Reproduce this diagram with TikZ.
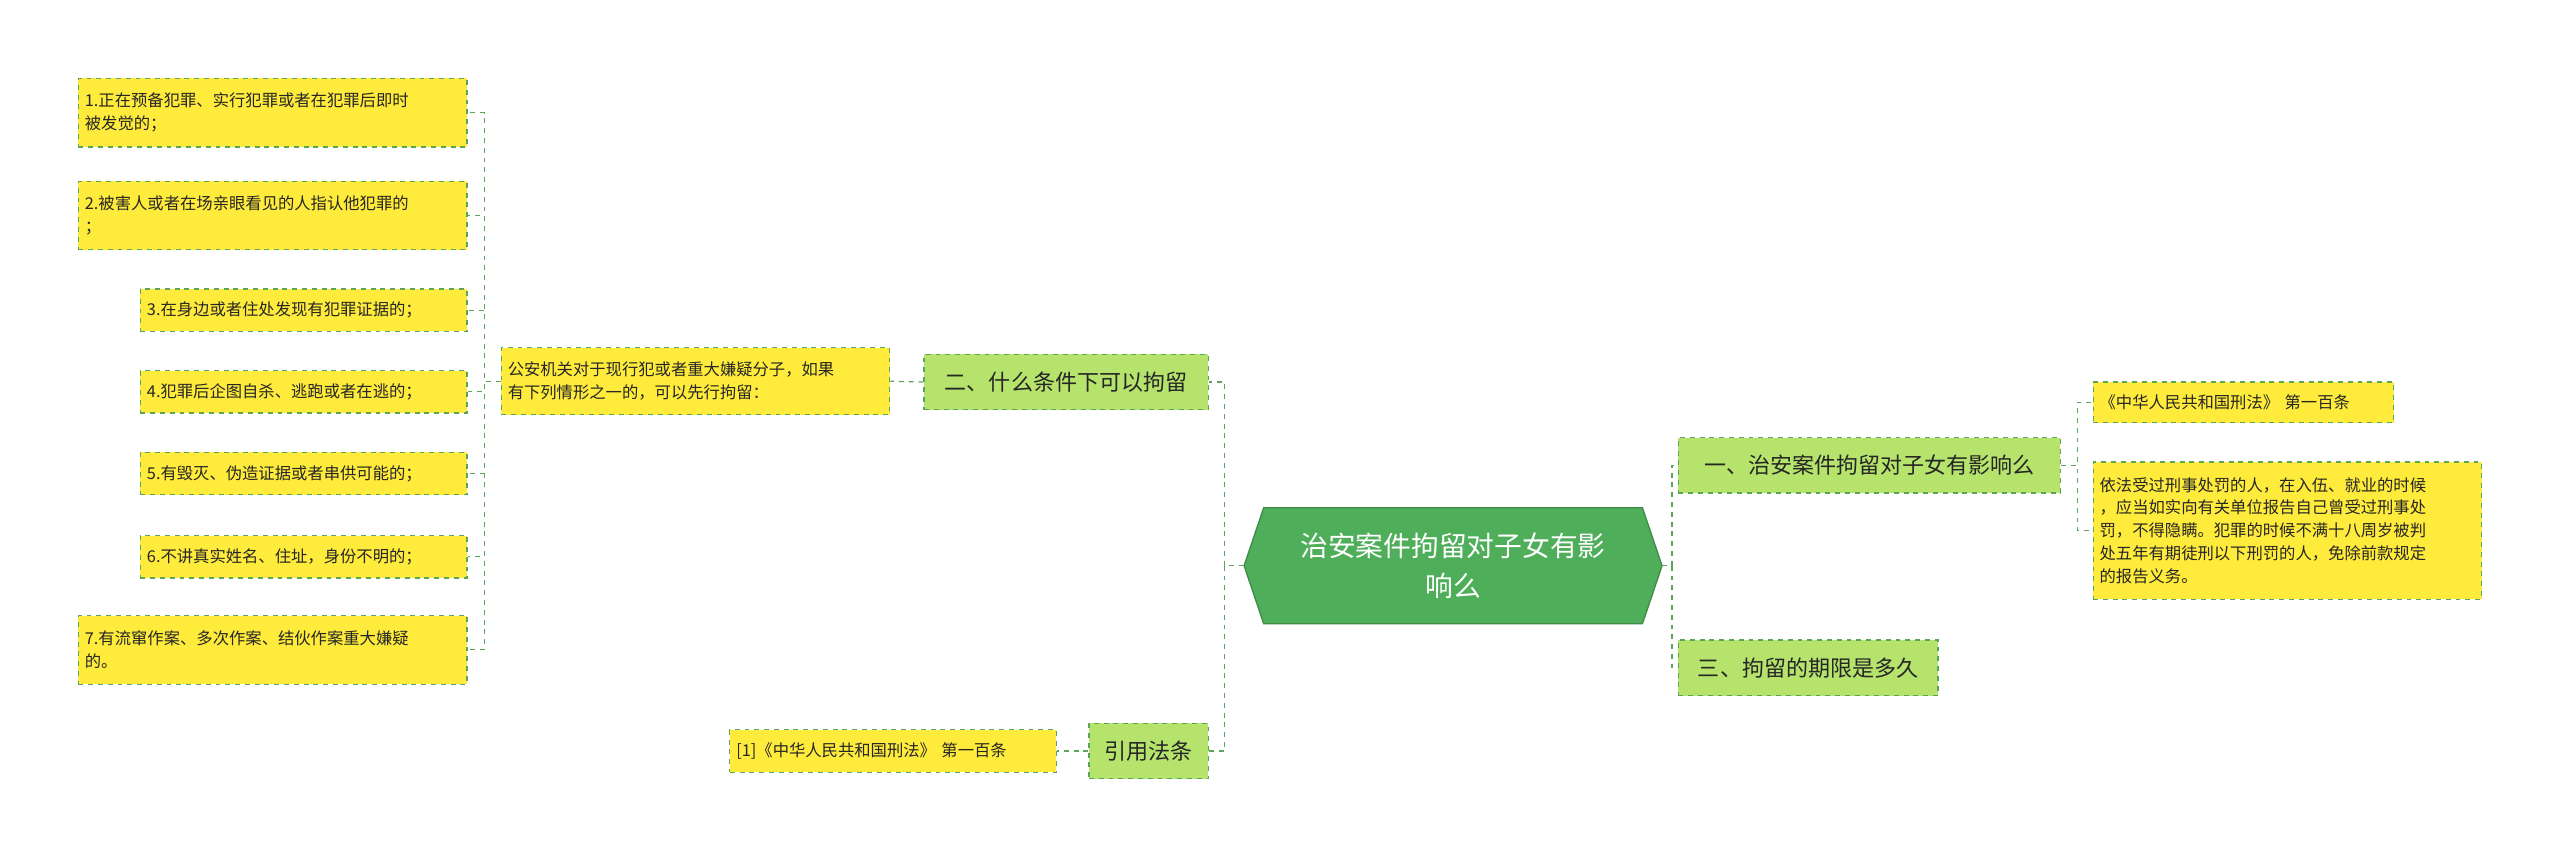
\documentclass[tikz,border=0pt]{standalone}
\usepackage{fontspec}
\setmainfont{Noto Sans CJK SC}
\begin{document}
\begin{tikzpicture}[x=1pt,y=-1pt,
  line/.style={draw=lc,dashed,line width=0.8pt},
  lone/.style={draw=lc,dashed,fill=l1,line width=0.8pt,font=\fontsize{13.5}{16}\selectfont,inner sep=0pt,text=black!85},
  leaf/.style={draw=lc,dashed,fill=yl,line width=0.7pt,font=\fontsize{10}{14}\selectfont,inner sep=0pt,align=left,text=black!85}]
\definecolor{lc}{HTML}{5AA55A}
\definecolor{l1}{HTML}{B5E36B}
\definecolor{yl}{HTML}{FFEB3B}
\definecolor{rt}{HTML}{4FAE5A}
\useasboundingbox (0,0) rectangle (1568,525);
% root
\fill[rt,draw=rt!80!black,line width=0.8pt] (774,311)--(1006,311)--(1018,346.5)--(1006,382)--(774,382)--(762,346.5)--cycle;
\node[font=\fontsize{17}{24}\selectfont,text=white,align=center] (root) at (890,346.5) {治安案件拘留对子女有影\\响么};
\coordinate (rL) at (762,346.5); \coordinate (rR) at (1018,346.5);
% level 1
\node[lone,minimum width=234,minimum height=34] (a) at (1145,285) {一、治安案件拘留对子女有影响么};
\node[lone,minimum width=159,minimum height=34] (c) at (1107.5,409) {三、拘留的期限是多久};
\node[lone,minimum width=174,minimum height=34] (b) at (653,234) {二、什么条件下可以拘留};
\node[lone,minimum width=73,minimum height=34] (d) at (703.5,460) {引用法条};
% right leaves
\node[leaf,minimum width=184,minimum height=25,text width=176] (a1) at (1374,246.5) {《中华人民共和国刑法》 第一百条};
\node[leaf,minimum width=238,minimum height=84,text width=230] (a2) at (1401,325) {依法受过刑事处罚的人，在入伍、就业的时候\\，应当如实向有关单位报告自己曾受过刑事处\\罚，不得隐瞒。犯罪的时候不满十八周岁被判\\处五年有期徒刑以下刑罚的人，免除前款规定\\的报告义务。};
% left
\node[leaf,minimum width=238,minimum height=41,text width=230] (m) at (426,233.5) {公安机关对于现行犯或者重大嫌疑分子，如果\\有下列情形之一的，可以先行拘留：};
\node[leaf,minimum width=238,minimum height=42,text width=230] (l1) at (167,69) {1.正在预备犯罪、实行犯罪或者在犯罪后即时\\被发觉的；};
\node[leaf,minimum width=238,minimum height=42,text width=230] (l2) at (167,132) {2.被害人或者在场亲眼看见的人指认他犯罪的\\；};
\node[leaf,minimum width=200,minimum height=26,text width=192] (l3) at (186,190) {3.在身边或者住处发现有犯罪证据的；};
\node[leaf,minimum width=200,minimum height=26,text width=192] (l4) at (186,240) {4.犯罪后企图自杀、逃跑或者在逃的；};
\node[leaf,minimum width=200,minimum height=26,text width=192] (l5) at (186,290) {5.有毁灭、伪造证据或者串供可能的；};
\node[leaf,minimum width=200,minimum height=26,text width=192] (l6) at (186,341) {6.不讲真实姓名、住址，身份不明的；};
\node[leaf,minimum width=238,minimum height=42,text width=230] (l7) at (167,398) {7.有流窜作案、多次作案、结伙作案重大嫌疑\\的。};
\node[leaf,minimum width=200,minimum height=26,text width=192] (r1) at (547,460) {[1]《中华人民共和国刑法》 第一百条};
% connectors
\draw[line] (rR) -- ++(6,0) |- (a.west);
\draw[line] (rR) -- ++(6,0) |- (c.west);
\draw[line] (rL) -- ++(-12,0) |- (b.east);
\draw[line] (rL) -- ++(-12,0) |- (d.east);
\draw[line] (a.east) -- ++(10,0) |- (a1.west);
\draw[line] (a.east) -- ++(10,0) |- (a2.west);
\draw[line] (b.west) -- (m.east);
\draw[line] (d.west) -- (r1.east);
\foreach \n in {l1,l2,l3,l4,l5,l6,l7} \draw[line] (m.west) -- ++(-10,0) |- (\n.east);
\end{tikzpicture}
\end{document}
